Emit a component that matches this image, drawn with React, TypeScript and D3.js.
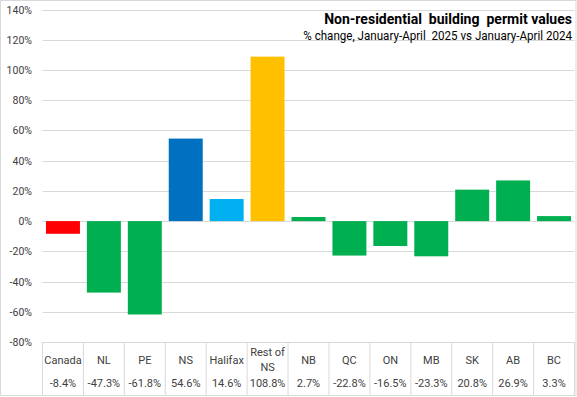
import React, { useLayoutEffect, useRef, useState } from "react";
import * as d3 from "d3";

const categories = ["Canada", "NL", "PE", "NS", "Halifax", "Rest of NS", "NB", "QC", "ON", "MB", "SK", "AB", "BC"];
const values = [-8.4, -47.3, -61.8, 54.6, 14.6, 108.8, 2.7, -22.8, -16.5, -23.3, 20.8, 26.9, 3.3];
const colors = ["#FF0000", "#00B050", "#00B050", "#0070C0", "#00B0F0", "#FFC000", "#00B050", "#00B050", "#00B050", "#00B050", "#00B050", "#00B050", "#00B050"];
const yTicks = [140, 120, 100, 80, 60, 40, 20, 0, -20, -40, -60, -80];
const title = "Non-residential  building  permit values";
const subtitle = "% change, January-April  2025 vs January-April 2024";

const W = 577, H = 397;
const L = 42.5, R = 574.5, T = 9.5, B = 342;

function FitText(props: { x: number; y: number; width: number; text: string; fontSize: number; fontWeight?: string; fontFamily: string }) {
  const ref = useRef<SVGTextElement>(null);
  const [s, setS] = useState(1);
  useLayoutEffect(() => {
    if (ref.current) {
      const w = ref.current.getComputedTextLength();
      if (w > 0) setS(props.width / w);
    }
  }, [props.width, props.text]);
  return (
    <g transform={`translate(${props.x},${props.y}) scale(${s},1)`}>
      <text ref={ref} x={0} y={0} textAnchor="end" fontFamily={props.fontFamily} fontWeight={props.fontWeight} fontSize={props.fontSize} fill="#000" style={{ whiteSpace: "pre" }}>{props.text}</text>
    </g>
  );
}

export default function App() {
  const x = d3.scaleBand<string>().domain(categories).range([L, R]).paddingInner(0.17).paddingOuter(0.085);
  const xb = d3.scaleBand<string>().domain(categories).range([L, R]);
  const y = d3.scaleLinear().domain([-80, 140]).range([B, T]);
  const font = "'Liberation Sans Narrow', 'Roboto', 'DejaVu Sans Condensed', sans-serif";
  const tf = "'Roboto', 'Liberation Sans', sans-serif";
  return (
    <svg width={W} height={H} style={{ position: "absolute", left: 0, top: 0 }}>
      <rect x={0.5} y={0.5} width={W - 1.5} height={H - 2} fill="#fff" stroke="#D9D9D9" />
      {yTicks.map((t) => (
        <g key={t}>
          <line x1={L} x2={R} y1={Math.round(y(t)) + 0.5} y2={Math.round(y(t)) + 0.5} stroke="#D9D9D9" strokeWidth={1} />
          <text x={32} y={y(t) + 4} textAnchor="end" fontSize={10.5} fontFamily={tf} fill="#404040">{t}%</text>
        </g>
      ))}
      {categories.map((c, i) => {
        const v = values[i];
        const y0 = y(0), y1 = y(v);
        return <rect key={c} x={x(c)} width={x.bandwidth()} y={Math.min(y0, y1)} height={Math.abs(y1 - y0)} fill={colors[i]} />;
      })}
      {categories.map((c) => (
        <line key={"s" + c} x1={xb(c)!} x2={xb(c)!} y1={B} y2={H - 2} stroke="#D9D9D9" />
      ))}
      <line x1={R} x2={R} y1={B} y2={H - 2} stroke="#D9D9D9" />
      {categories.map((c, i) => {
        const cx = xb(c)! + xb.bandwidth() / 2;
        const parts = c === "Rest of NS" ? ["Rest of", "NS"] : [c];
        return (
          <g key={"t" + c} fontFamily={tf} fontSize={11} fill="#404040" textAnchor="middle">
            {parts.length === 1 ? (
              <text x={cx} y={364}>{c}</text>
            ) : (
              <>
                <text x={cx} y={356}>{parts[0]}</text>
                <text x={cx} y={371}>{parts[1]}</text>
              </>
            )}
            <text x={cx} y={387}>{values[i].toFixed(1)}%</text>
          </g>
        );
      })}
      <FitText x={572} y={24} width={248} text={title} fontFamily={font} fontWeight="bold" fontSize={15} />
      <FitText x={572} y={40} width={269} text={subtitle} fontFamily={font} fontSize={12.5} />
    </svg>
  );
}
